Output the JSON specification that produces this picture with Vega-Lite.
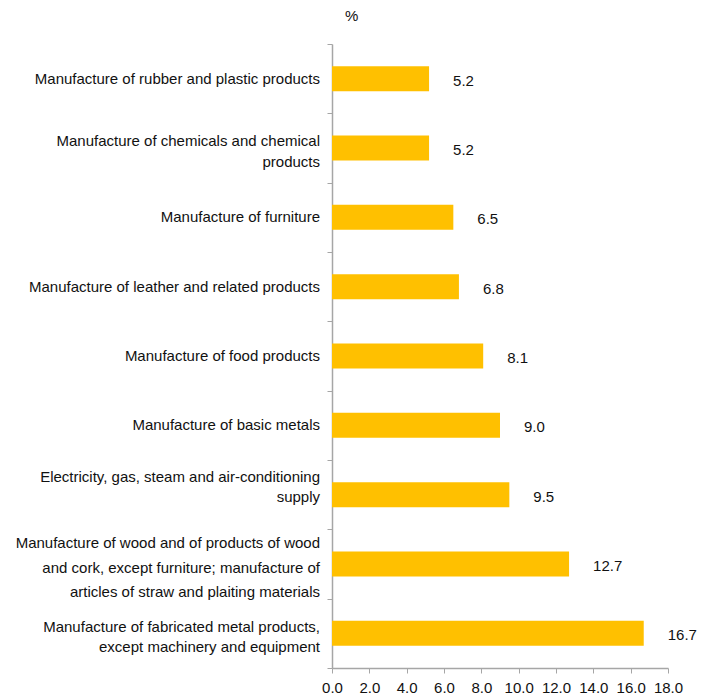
{
  "$schema": "https://vega.github.io/schema/vega-lite/v6.json",
  "width": 336,
  "height": 624,
  "autosize": {"type": "none"},
  "padding": {"left": 332, "top": 44, "right": 33, "bottom": 30},
  "background": "white",
  "config": {
    "view": {"stroke": null},
    "font": "Liberation Sans"
  },
  "title": {
    "text": "%",
    "anchor": "start",
    "frame": "group",
    "dx": 13,
    "offset": 20,
    "fontSize": 15,
    "fontWeight": "normal",
    "color": "#111",
    "font": "Liberation Sans"
  },
  "data": {
    "values": [
      {"cat": "Manufacture of rubber and plastic products", "label": ["Manufacture of rubber and plastic products"], "value": 5.2},
      {"cat": "Manufacture of chemicals and chemical products", "label": ["Manufacture of chemicals and chemical", "products"], "value": 5.2},
      {"cat": "Manufacture of furniture", "label": ["Manufacture of furniture"], "value": 6.5},
      {"cat": "Manufacture of leather and related products", "label": ["Manufacture of leather and related products"], "value": 6.8},
      {"cat": "Manufacture of food products", "label": ["Manufacture of food products"], "value": 8.1},
      {"cat": "Manufacture of basic metals", "label": ["Manufacture of basic metals"], "value": 9.0},
      {"cat": "Electricity, gas, steam and air-conditioning supply", "label": ["Electricity, gas, steam and air-conditioning", "supply"], "value": 9.5},
      {"cat": "Manufacture of wood and of products of wood and cork, except furniture; manufacture of articles of straw and plaiting materials", "label": ["Manufacture of wood and of products of wood", "and cork, except furniture; manufacture of", "articles of straw and plaiting materials"], "value": 12.7},
      {"cat": "Manufacture of fabricated metal products, except machinery and equipment", "label": ["Manufacture of fabricated metal products,", "except machinery and equipment"], "value": 16.7}
    ]
  },
  "encoding": {
    "y": {
      "field": "cat",
      "type": "nominal",
      "sort": null,
      "scale": {"paddingInner": 0, "paddingOuter": 0},
      "axis": {
        "title": null,
        "labels": false,
        "tickBand": "extent",
        "tickSize": 5,
        "tickColor": "#a6a6a6",
        "domainColor": "#a6a6a6",
        "domainWidth": 1.5,
        "grid": false
      }
    },
    "x": {
      "field": "value",
      "type": "quantitative",
      "scale": {"domain": [0, 18], "nice": false},
      "axis": {
        "title": null,
        "values": [0, 2, 4, 6, 8, 10, 12, 14, 16, 18],
        "format": ".1f",
        "labelFontSize": 15,
        "labelColor": "#111",
        "labelPadding": 7,
        "tickSize": 5,
        "tickColor": "#a6a6a6",
        "domainColor": "#a6a6a6",
        "domainWidth": 1.5,
        "grid": false,
        "labelFlush": false
      }
    }
  },
  "layer": [
    {
      "mark": {"type": "bar", "color": "#FFC000", "height": {"band": 0.36}}
    },
    {
      "mark": {"type": "text", "align": "left", "baseline": "middle", "dx": 24, "dy": 2, "fontSize": 15, "color": "#111"},
      "encoding": {
        "text": {"field": "value", "type": "quantitative", "format": ".1f"}
      }
    },
    {
      "transform": [{"filter": {"field": "cat", "oneOf": ["Manufacture of rubber and plastic products", "Manufacture of furniture", "Manufacture of leather and related products", "Manufacture of food products", "Manufacture of basic metals"]}}],
      "mark": {"type": "text", "align": "right", "baseline": "middle", "dx": -12, "dy": 0, "fontSize": 15, "color": "#111"},
      "encoding": {
        "x": {"datum": 0, "type": "quantitative"},
        "text": {"field": "label", "type": "nominal"}
      }
    },
    {
      "transform": [{"filter": {"field": "cat", "equal": "Manufacture of chemicals and chemical products"}}],
      "mark": {"type": "text", "align": "right", "baseline": "middle", "dx": -12, "dy": -7, "lineHeight": 21, "fontSize": 15, "color": "#111"},
      "encoding": {
        "x": {"datum": 0, "type": "quantitative"},
        "text": {"field": "label", "type": "nominal"}
      }
    },
    {
      "transform": [{"filter": {"field": "cat", "equal": "Manufacture of fabricated metal products, except machinery and equipment"}}],
      "mark": {"type": "text", "align": "right", "baseline": "middle", "dx": -12, "dy": -6, "lineHeight": 20, "fontSize": 15, "color": "#111"},
      "encoding": {
        "x": {"datum": 0, "type": "quantitative"},
        "text": {"field": "label", "type": "nominal"}
      }
    },
    {
      "transform": [{"filter": {"field": "cat", "equal": "Electricity, gas, steam and air-conditioning supply"}}],
      "mark": {"type": "text", "align": "right", "baseline": "middle", "dx": -12, "dy": -18, "lineHeight": 20, "fontSize": 15, "color": "#111"},
      "encoding": {
        "x": {"datum": 0, "type": "quantitative"},
        "text": {"field": "label", "type": "nominal"}
      }
    },
    {
      "transform": [{"filter": {"field": "cat", "equal": "Manufacture of wood and of products of wood and cork, except furniture; manufacture of articles of straw and plaiting materials"}}],
      "mark": {"type": "text", "align": "right", "baseline": "middle", "dx": -12, "dy": -21, "lineHeight": 24.7, "fontSize": 15, "color": "#111"},
      "encoding": {
        "x": {"datum": 0, "type": "quantitative"},
        "text": {"field": "label", "type": "nominal"}
      }
    }
  ]
}
